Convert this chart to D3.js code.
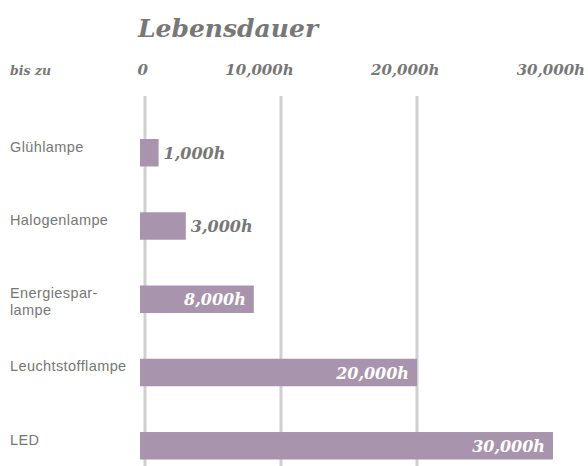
<!DOCTYPE html>
<html>
<head>
<meta charset="utf-8">
<script src="https://cdn.jsdelivr.net/npm/d3@7"></script>
<style>
  html, body { margin: 0; padding: 0; background: #fff; }
  svg { display: block; }
</style>
</head>
<body>
<svg id="chart" width="588" height="466"></svg>
<script>
// Lamp types and their lifetime in hours
const categories = [["Glühlampe"], ["Halogenlampe"], ["Energiespar-", "lampe"], ["Leuchtstofflampe"], ["LED"]];
const hours = [1000, 3000, 8000, 20000, 30000];
const tickValues = [0, 10000, 20000, 30000];
const tickLabels = ["0", "10,000h", "20,000h", "30,000h"];
const gridValues = [0, 10000, 20000];

const serif = "'DejaVu Serif', serif";
const sans = "'Liberation Sans', Arial, sans-serif";
const grey = "#777";
const barColor = "#a894ad";

const svg = d3.select("#chart");

const x = d3.scaleLinear().domain([0, 30000]).range([145, 553]);
const barStart = x(0) - 5;
// header tick labels are right-aligned along their own track
const xHead = d3.scaleLinear().domain([0, 30000]).range([148, 585]);
const y = d3.scaleBand().domain(d3.range(categories.length))
  .range([139, 459.5]).paddingInner(0.625).paddingOuter(0).align(0);

// title
svg.append("text")
  .attr("x", 138).attr("y", 37)
  .attr("font-family", serif).attr("font-weight", "bold").attr("font-style", "italic")
  .attr("font-size", 25).attr("fill", grey)
  .text("Lebensdauer");

// header row
svg.append("text")
  .attr("x", 10).attr("y", 75)
  .attr("font-family", serif).attr("font-weight", "bold").attr("font-style", "italic")
  .attr("font-size", 12.5).attr("fill", grey)
  .text("bis zu");

svg.append("g").selectAll("text")
  .data(tickValues)
  .join("text")
  .attr("x", d => xHead(d)).attr("y", 75)
  .attr("text-anchor", "end")
  .attr("font-family", serif).attr("font-weight", "bold").attr("font-style", "italic")
  .attr("font-size", 15).attr("fill", grey)
  .text((d, i) => tickLabels[i]);

// vertical gridlines
svg.append("g").selectAll("line")
  .data(gridValues)
  .join("line")
  .attr("x1", d => x(d)).attr("x2", d => x(d))
  .attr("y1", 96).attr("y2", 466)
  .attr("stroke", "#d0d0d0").attr("stroke-width", 3);

// bars
const rows = svg.append("g").selectAll("g")
  .data(hours)
  .join("g")
  .attr("transform", (d, i) => `translate(0,${y(i)})`);

rows.append("rect")
  .attr("x", barStart)
  .attr("width", d => x(d) - barStart)
  .attr("height", y.bandwidth())
  .attr("fill", barColor);

// category labels
rows.append("text")
  .attr("font-family", sans).attr("font-size", 14.5).attr("fill", grey)
  .attr("letter-spacing", 0.4)
  .attr("y", 12.5)
  .selectAll("tspan")
  .data((d, i) => categories[i])
  .join("tspan")
  .attr("x", 10)
  .attr("dy", (d, j) => j === 0 ? 0 : 16.5)
  .text(d => d);

// value labels: inside the bar when it is wide enough, otherwise right of it
const fmt = d => d3.format(",")(d) + "h";
rows.append("text")
  .attr("font-family", serif).attr("font-weight", "bold").attr("font-style", "italic")
  .attr("font-size", 16)
  .attr("y", y.bandwidth() / 2 + 6)
  .each(function (d) {
    const inside = x(d) - barStart > 80;
    d3.select(this)
      .attr("x", inside ? x(d) - 8 : x(d) + 5)
      .attr("text-anchor", inside ? "end" : "start")
      .attr("fill", inside ? "#fff" : grey);
  })
  .text(fmt);
</script>
</body>
</html>
